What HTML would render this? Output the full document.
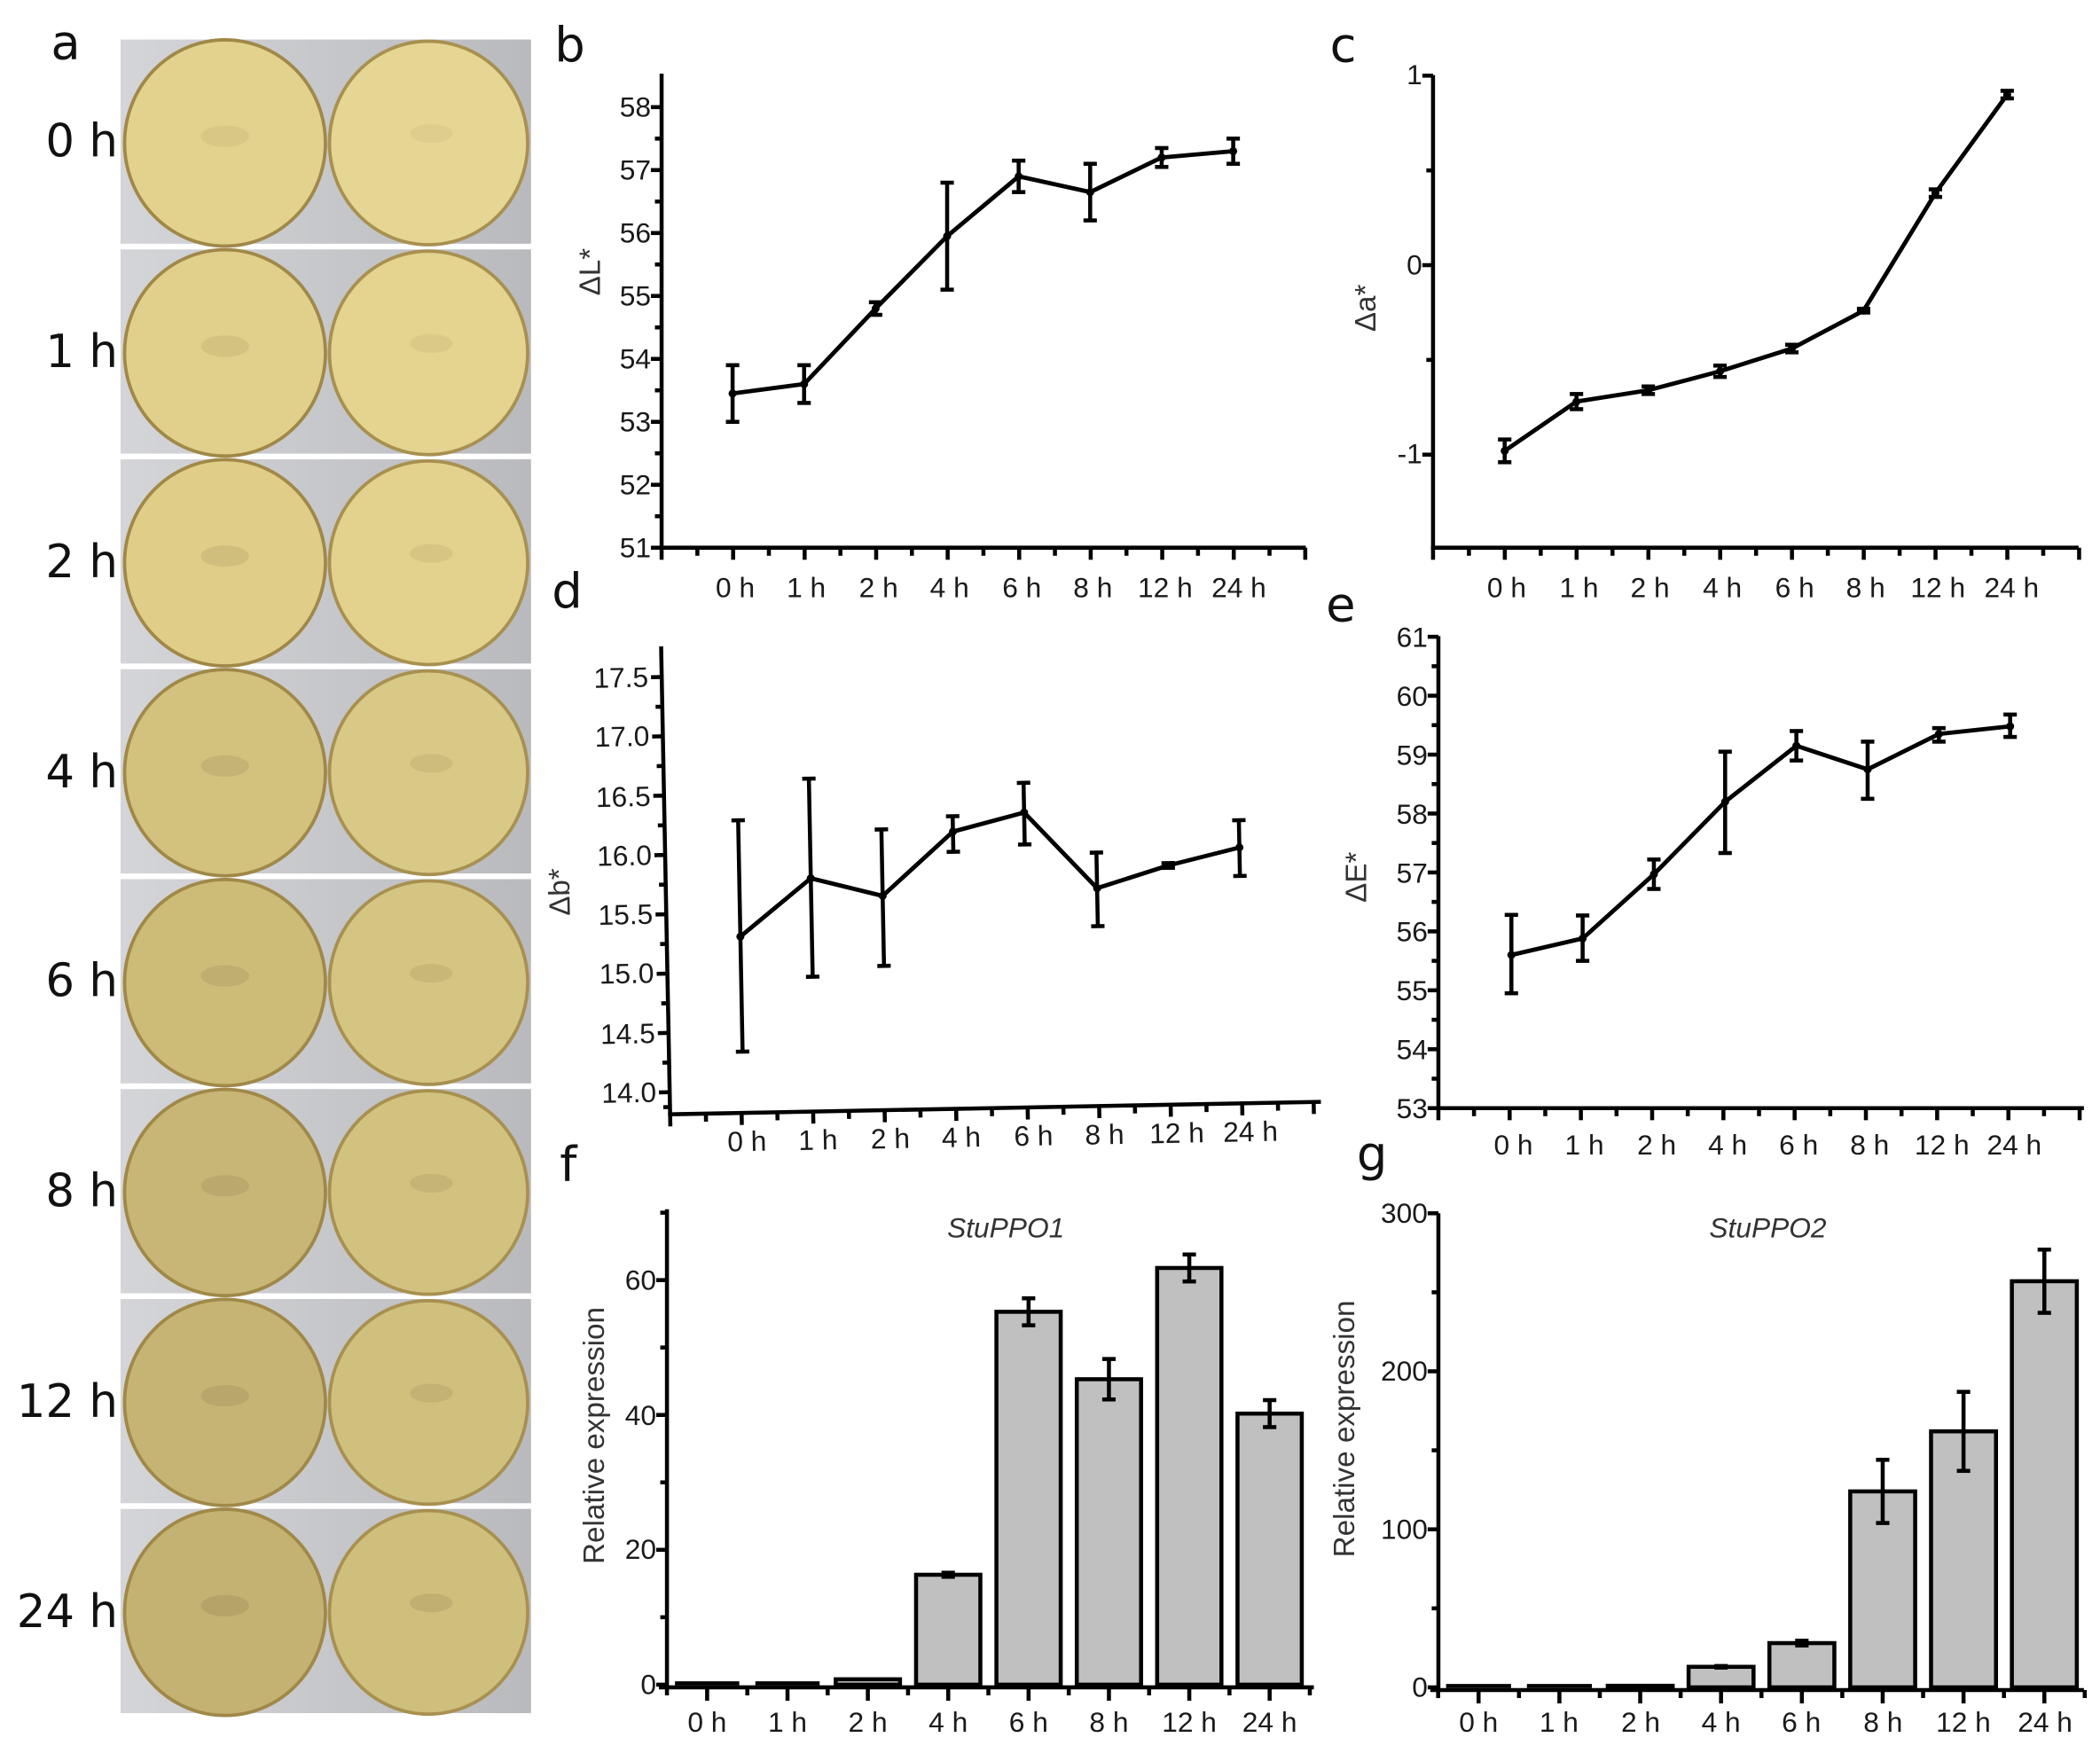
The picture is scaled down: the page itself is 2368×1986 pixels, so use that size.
<!DOCTYPE html>
<html><head><meta charset="utf-8">
<style>
html,body{margin:0;padding:0;background:#fff;}
svg{display:block;}
text{font-family:"Liberation Sans",Arial,sans-serif;fill:#1a1a1a;}
.tk{font-size:21px;}
.xl{font-size:21px;text-anchor:middle;}
.yl{font-size:21px;text-anchor:end;}
.pl{font-size:36px;font-family:"DejaVu Sans","Liberation Sans",sans-serif;fill:#111;}
.tl{font-size:34px;font-family:"DejaVu Sans","Liberation Sans",sans-serif;fill:#111;text-anchor:end;}
.ax{font-size:22px;fill:#333;}
</style></head>
<body>
<svg id="s" width="2368" height="1986" viewBox="0 0 1568 1315" preserveAspectRatio="none" xmlns="http://www.w3.org/2000/svg">
<defs>
<linearGradient id="bg" x1="0" x2="1" y1="0" y2="0"><stop offset="0" stop-color="#d4d5d8"/><stop offset="1" stop-color="#b9babd"/></linearGradient>
</defs>
<g id="photos"></g>
<g id="shapes" stroke="#000" fill="none" stroke-width="3"></g>

<!-- photo labels -->
<text class="pl" x="38" y="44">a</text>
<text class="tl" x="88" y="117">0 h</text>
<text class="tl" x="88" y="274">1 h</text>
<text class="tl" x="88" y="431">2 h</text>
<text class="tl" x="88" y="588">4 h</text>
<text class="tl" x="88" y="744">6 h</text>
<text class="tl" x="88" y="901">8 h</text>
<text class="tl" x="88" y="1058">12 h</text>
<text class="tl" x="88" y="1215">24 h</text>

<!-- panel letters -->
<text class="pl" x="414" y="46">b</text>
<text class="pl" x="993" y="46">c</text>
<text class="pl" x="412" y="454">d</text>
<text class="pl" x="990" y="464">e</text>
<text class="pl" x="418" y="882">f</text>
<text class="pl" x="1013" y="874">g</text>

<!-- panel b -->
<text class="yl" x="486" y="87">58</text>
<text class="yl" x="486" y="134">57</text>
<text class="yl" x="486" y="181">56</text>
<text class="yl" x="486" y="228">55</text>
<text class="yl" x="486" y="275">54</text>
<text class="yl" x="486" y="322">53</text>
<text class="yl" x="486" y="369">52</text>
<text class="yl" x="486" y="416">51</text>
<text class="ax" transform="translate(448,203) rotate(-90)" text-anchor="middle">ΔL*</text>
<text class="xl" x="549" y="446">0 h</text>
<text class="xl" x="602" y="446">1 h</text>
<text class="xl" x="656" y="446">2 h</text>
<text class="xl" x="709" y="446">4 h</text>
<text class="xl" x="763" y="446">6 h</text>
<text class="xl" x="816" y="446">8 h</text>
<text class="xl" x="870" y="446">12 h</text>
<text class="xl" x="925" y="446">24 h</text>

<!-- panel c -->
<text class="yl" x="1062" y="63">1</text>
<text class="yl" x="1062" y="205">0</text>
<text class="yl" x="1062" y="346">-1</text>
<text class="ax" transform="translate(1027,230) rotate(-90)" text-anchor="middle">Δa*</text>
<text class="xl" x="1125" y="446">0 h</text>
<text class="xl" x="1179" y="446">1 h</text>
<text class="xl" x="1232" y="446">2 h</text>
<text class="xl" x="1286" y="446">4 h</text>
<text class="xl" x="1340" y="446">6 h</text>
<text class="xl" x="1393" y="446">8 h</text>
<text class="xl" x="1447" y="446">12 h</text>
<text class="xl" x="1502" y="446">24 h</text>

<!-- panel d (rotated) -->
<g transform="rotate(-1.1 738 655)">
<text class="yl" x="487" y="508">17.5</text>
<text class="yl" x="487" y="552">17.0</text>
<text class="yl" x="487" y="597">16.5</text>
<text class="yl" x="487" y="641">16.0</text>
<text class="yl" x="487" y="685">15.5</text>
<text class="yl" x="487" y="729">15.0</text>
<text class="yl" x="487" y="774">14.5</text>
<text class="yl" x="487" y="818">14.0</text>
<text class="ax" transform="translate(425,660) rotate(-90)" text-anchor="middle">Δb*</text>
<text class="xl" x="554" y="856">0 h</text>
<text class="xl" x="607" y="856">1 h</text>
<text class="xl" x="661" y="856">2 h</text>
<text class="xl" x="714" y="856">4 h</text>
<text class="xl" x="768" y="856">6 h</text>
<text class="xl" x="821" y="856">8 h</text>
<text class="xl" x="875" y="856">12 h</text>
<text class="xl" x="930" y="856">24 h</text>
<g id="dshapes" stroke="#000" fill="none" stroke-width="3"></g>
</g>

<!-- panel e -->
<text class="yl" x="1066" y="483">61</text>
<text class="yl" x="1066" y="527">60</text>
<text class="yl" x="1066" y="571">59</text>
<text class="yl" x="1066" y="615">58</text>
<text class="yl" x="1066" y="659">57</text>
<text class="yl" x="1066" y="703">56</text>
<text class="yl" x="1066" y="747">55</text>
<text class="yl" x="1066" y="791">54</text>
<text class="yl" x="1066" y="835">53</text>
<text class="ax" transform="translate(1020,655) rotate(-90)" text-anchor="middle">ΔE*</text>
<text class="xl" x="1130" y="862">0 h</text>
<text class="xl" x="1183" y="862">1 h</text>
<text class="xl" x="1237" y="862">2 h</text>
<text class="xl" x="1290" y="862">4 h</text>
<text class="xl" x="1343" y="862">6 h</text>
<text class="xl" x="1396" y="862">8 h</text>
<text class="xl" x="1450" y="862">12 h</text>
<text class="xl" x="1504" y="862">24 h</text>

<!-- panel f -->
<text class="yl" x="490" y="1265">0</text>
<text class="yl" x="490" y="1164">20</text>
<text class="yl" x="490" y="1064">40</text>
<text class="yl" x="490" y="963">60</text>
<text class="ax" transform="translate(451,1072) rotate(-90)" text-anchor="middle">Relative expression</text>
<text x="751" y="924" text-anchor="middle" style="font-size:21px;font-style:italic;fill:#333">StuPPO1</text>
<text class="xl" x="528" y="1293">0 h</text>
<text class="xl" x="588" y="1293">1 h</text>
<text class="xl" x="648" y="1293">2 h</text>
<text class="xl" x="708" y="1293">4 h</text>
<text class="xl" x="768" y="1293">6 h</text>
<text class="xl" x="828" y="1293">8 h</text>
<text class="xl" x="888" y="1293">12 h</text>
<text class="xl" x="948" y="1293">24 h</text>

<!-- panel g -->
<text class="yl" x="1066" y="1267">0</text>
<text class="yl" x="1066" y="1149">100</text>
<text class="yl" x="1066" y="1031">200</text>
<text class="yl" x="1066" y="913">300</text>
<text class="ax" transform="translate(1011,1067) rotate(-90)" text-anchor="middle">Relative expression</text>
<text x="1320" y="924" text-anchor="middle" style="font-size:21px;font-style:italic;fill:#333">StuPPO2</text>
<text class="xl" x="1104" y="1293">0 h</text>
<text class="xl" x="1164" y="1293">1 h</text>
<text class="xl" x="1225" y="1293">2 h</text>
<text class="xl" x="1285" y="1293">4 h</text>
<text class="xl" x="1345" y="1293">6 h</text>
<text class="xl" x="1406" y="1293">8 h</text>
<text class="xl" x="1466" y="1293">12 h</text>
<text class="xl" x="1527" y="1293">24 h</text>
</svg>
<script>
var NS="http://www.w3.org/2000/svg";
function el(p,t,a){var e=document.createElementNS(NS,t);for(var k in a)e.setAttribute(k,a[k]);p.appendChild(e);return e;}
var S=document.getElementById('shapes'),D=document.getElementById('dshapes'),P=document.getElementById('photos');
function L(g,x1,y1,x2,y2,w){el(g,'line',{x1:x1,y1:y1,x2:x2,y2:y2,'stroke-width':w||3});}
// photos
var fills=['#e3d28e','#e1d08b','#e0cd88','#d3c17e','#cdbb78','#c8b676','#c6b474','#c4b272'];
var fills2=['#e6d693','#e4d490','#e2d28d','#d9c987','#d5c582','#d2c27f','#d0c07d','#cfbf7c'];
for(var r=0;r<8;r++){
 var y=29.5+156.75*r,h=152.5;
 el(P,'rect',{x:90,y:y,width:306.5,height:h,fill:'url(#bg)'});
 var cy=y+h/2;
 el(P,'ellipse',{cx:168,cy:cy+1,rx:75,ry:77,fill:fills[r],stroke:'#a08848','stroke-width':2.5});
 el(P,'ellipse',{cx:320,cy:cy+1,rx:74,ry:76,fill:fills2[r],stroke:'#a89050','stroke-width':2.5});
 el(P,'ellipse',{cx:168,cy:cy-4,rx:18,ry:8,fill:'#a89860','opacity':0.18+0.05*r});
 el(P,'ellipse',{cx:322,cy:cy-6,rx:16,ry:7,fill:'#a89860','opacity':0.12+0.04*r});
}
// generic axes
function axes(g,x0,yb,ytop,xr,yt,ymin,catx0,sp){
 L(g,x0,ytop,x0,yb+1.5);L(g,x0-1.5,yb,xr,yb);
 yt.forEach(function(t){L(g,x0-(t[1]?8:5),t[0],x0,t[0]);});
 var n=Math.round((xr-x0)/(sp/2));
 for(var i=0;i<=n;i++){var x=x0+i*(sp/2);var maj=Math.abs(((x-catx0)/sp)-Math.round((x-catx0)/sp))<0.1;L(g,x,yb,x,yb+(maj?9:6));}
}
function series(g,xs,ys,errs){
 var d='';xs.forEach(function(x,i){d+=(i?'L':'M')+x+' '+ys[i];});
 el(g,'path',{d:d,'stroke-width':3.2,'stroke-linejoin':'round'});
 xs.forEach(function(x,i){var lo=errs[i][0],hi=errs[i][1];L(g,x,lo,x,hi,3);L(g,x-5,lo,x+5,lo,3);L(g,x-5,hi,x+5,hi,3);el(g,'circle',{cx:x,cy:ys[i],r:3,fill:'#000','stroke-width':0});});
}
function lineP(g,x0,yb,ytop,xr,catx0,sp,sy,ticks,data){
 axes(g,x0,yb,ytop,xr,ticks,0,catx0,sp);
 var xs=[],ys=[],er=[];data.forEach(function(d,i){xs.push(catx0+i*sp);ys.push(sy(d[0]));er.push([sy(d[1]),sy(d[2])]);});
 series(g,xs,ys,er);
}
function mk(vals,sy,minor){var t=[];vals.forEach(function(v){t.push([sy(v),1]);});(minor||[]).forEach(function(v){t.push([sy(v),0]);});return t;}
// b
var sb=function(v){return 409-(v-51)*47;};
lineP(S,494,409,55,975,547,53.4,sb,mk([51,52,53,54,55,56,57,58],sb,[51.5,52.5,53.5,54.5,55.5,56.5,57.5]),
 [[53.45,53.0,53.9],[53.6,53.3,53.9],[54.8,54.7,54.9],[55.95,55.1,56.8],[56.9,56.65,57.15],[56.65,56.2,57.1],[57.2,57.05,57.35],[57.3,57.1,57.5]]);
// c
var sc=function(v){return 198-v*141.5;};
lineP(S,1070,409,56,1552,1123.5,53.6,sc,mk([1,0,-1],sc,[0.5,-0.5]),
 [[-0.98,-1.04,-0.92],[-0.72,-0.76,-0.68],[-0.66,-0.68,-0.64],[-0.56,-0.59,-0.53],[-0.44,-0.46,-0.42],[-0.24,-0.25,-0.23],[0.38,0.36,0.40],[0.9,0.88,0.92]]);
// d (unrotated coords)
var sd=function(v){return 811-(v-14)*88.6;};
lineP(D,497,827.5,478,983,552,53.4,sd,mk([14,14.5,15,15.5,16,16.5,17,17.5],sd,[13.875,14.25,14.75,15.25,15.75,16.25,16.75,17.25]),
 [[15.3,14.33,16.28],[15.78,14.95,16.62],[15.62,15.03,16.18],[16.15,15.98,16.28],[16.3,16.03,16.55],[15.65,15.33,15.95],[15.83,15.81,15.85],[15.97,15.73,16.2]]);
// e
var se=function(v){return 827.5-(v-53)*44;};
lineP(S,1074,827.5,475,1556,1128.5,53.2,se,mk([53,54,55,56,57,58,59,60,61],se,[53.5,54.5,55.5,56.5,57.5,58.5,59.5,60.5]),
 [[55.6,54.95,56.28],[55.88,55.5,56.27],[56.97,56.72,57.22],[58.2,57.33,59.05],[59.15,58.9,59.4],[58.75,58.25,59.22],[59.35,59.22,59.45],[59.48,59.3,59.68]]);
// bars
function bars(g,x0,yb,ytop,xr,catx0,sp,sy,ticks,data,bw){
 data.forEach(function(d,i){var cx=catx0+i*sp,y=sy(d[0]);
  if(yb-y>1)el(g,'rect',{x:cx-bw/2,y:y,width:bw,height:yb-y,fill:'#c0c0c0','stroke-width':3});
  else L(g,cx-bw/2,yb-1,cx+bw/2,yb-1,3);
  if(d[1]){var lo=sy(d[0]-d[1]),hi=sy(d[0]+d[1]);L(g,cx,lo,cx,hi,3);L(g,cx-5,lo,cx+5,lo,3);L(g,cx-5,hi,cx+5,hi,3);}
 });
 L(g,x0,ytop,x0,yb+2);L(g,x0-6,yb+2,xr,yb+2);
 ticks.forEach(function(t){L(g,x0-(t[1]?8:5),t[0],x0,t[0]);});
 for(var i=0;i<8;i++){var cx=catx0+i*sp;L(g,cx,yb+2,cx,yb+12);}
 for(var i=0;i<=8;i++){var cx=catx0+(i-0.5)*sp;L(g,cx,yb+2,cx,yb+8);}
}
var sf=function(v){return 1258-v*5.035;};
bars(S,498,1258,903,981,528,60,sf,mk([0,20,40,60],sf,[10,30,50,70]),
 [[0,0],[0,0],[0.8,0],[16.3,0.3],[55.3,2],[45.3,3],[61.8,2],[40.2,2]],48);
var sg=function(v){return 1260-v*1.18;};
bars(S,1074,1260,906,1556,1104,60.35,sg,mk([0,100,200,300],sg,[50,150,250]),
 [[0,0],[0.5,0],[1,0],[13,0.5],[28,1.5],[124,20],[162,25],[257,20]],48.5);
</script>
</body></html>
